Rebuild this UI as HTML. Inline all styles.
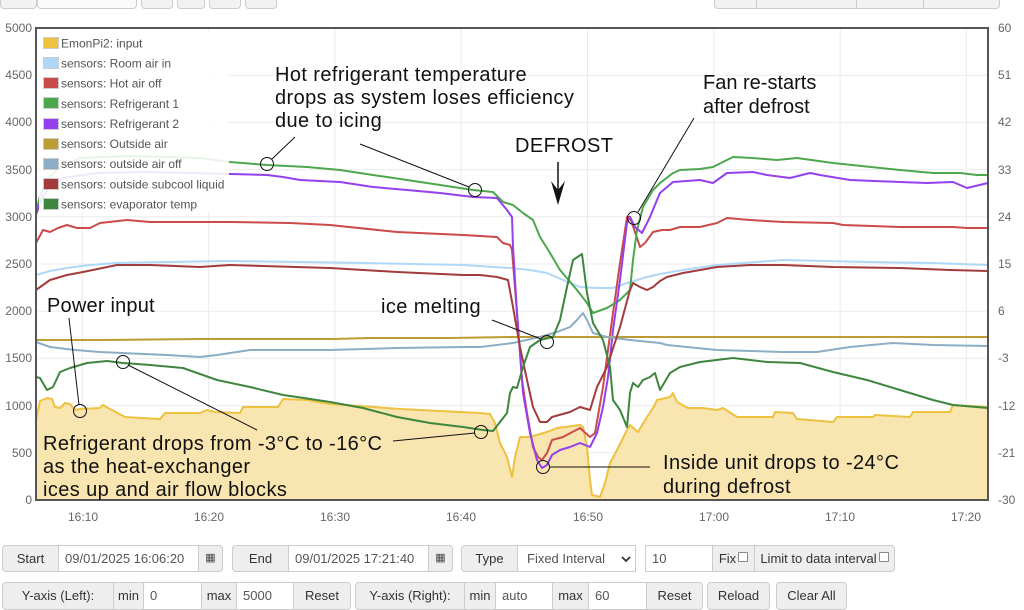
<!DOCTYPE html>
<html><head><meta charset="utf-8">
<style>
html,body{margin:0;padding:0;background:#fff;}
body{width:1024px;height:609px;position:relative;overflow:hidden;font-family:"Liberation Sans",Arial,sans-serif;}
.c{position:absolute;box-sizing:border-box;border:1px solid #ccc;font-size:13px;color:#333;line-height:25px;white-space:nowrap;}
.a{background:#eee;text-align:center;}
.i{background:#fff;color:#555;padding-left:6px;}
.t{position:absolute;box-sizing:border-box;border:1px solid #ccc;background:#f2f2f2;top:-20px;height:29px;border-radius:4px;}
.cb{display:inline-block;width:8px;height:8px;border:1px solid #888;background:#fff;vertical-align:1px;margin-left:2px;border-radius:1px;}
</style></head><body>
<div class="t" style="left:0;width:37px"></div>
<div class="t" style="left:37px;width:100px;background:#fafafa"></div>
<div class="t" style="left:141px;width:32px"></div>
<div class="t" style="left:177px;width:28px"></div>
<div class="t" style="left:209px;width:32px"></div>
<div class="t" style="left:245px;width:32px"></div>
<div class="t" style="left:714px;width:286px"></div>
<div style="position:absolute;left:756px;top:0;width:1px;height:9px;background:#ccc"></div>
<div style="position:absolute;left:856px;top:0;width:1px;height:9px;background:#ccc"></div>
<div style="position:absolute;left:923px;top:0;width:1px;height:9px;background:#ccc"></div>

<svg width="1024" height="540" style="position:absolute;left:0;top:0" font-family="Liberation Sans, Arial, sans-serif">
<g stroke="#ebebeb" stroke-width="1">
<line x1="36" y1="75.2" x2="988" y2="75.2"/><line x1="36" y1="122.4" x2="988" y2="122.4"/>
<line x1="36" y1="169.6" x2="988" y2="169.6"/><line x1="36" y1="216.8" x2="988" y2="216.8"/>
<line x1="36" y1="264" x2="988" y2="264"/><line x1="36" y1="311.2" x2="988" y2="311.2"/>
<line x1="36" y1="358.4" x2="988" y2="358.4"/><line x1="36" y1="405.6" x2="988" y2="405.6"/>
<line x1="36" y1="452.8" x2="988" y2="452.8"/>
<line x1="82.3" y1="28" x2="82.3" y2="500"/><line x1="208.6" y1="28" x2="208.6" y2="500"/>
<line x1="334.9" y1="28" x2="334.9" y2="500"/><line x1="461.2" y1="28" x2="461.2" y2="500"/>
<line x1="587.5" y1="28" x2="587.5" y2="500"/><line x1="713.8" y1="28" x2="713.8" y2="500"/>
<line x1="840.1" y1="28" x2="840.1" y2="500"/><line x1="966.4" y1="28" x2="966.4" y2="500"/>
</g>
<g font-size="12" fill="#666" text-anchor="end">
<text x="32" y="32">5000</text><text x="32" y="79">4500</text><text x="32" y="126">4000</text>
<text x="32" y="174">3500</text><text x="32" y="221">3000</text><text x="32" y="268">2500</text>
<text x="32" y="315">2000</text><text x="32" y="362">1500</text><text x="32" y="410">1000</text>
<text x="32" y="457">500</text><text x="32" y="504">0</text>
</g>
<g font-size="12" fill="#666">
<text x="998" y="32">60</text><text x="998" y="79">51</text><text x="998" y="126">42</text>
<text x="998" y="174">33</text><text x="998" y="221">24</text><text x="998" y="268">15</text>
<text x="998" y="315">6</text><text x="998" y="362">-3</text><text x="998" y="410">-12</text>
<text x="998" y="457">-21</text><text x="998" y="504">-30</text>
</g>
<g font-size="12" fill="#666" text-anchor="middle">
<text x="83" y="521">16:10</text><text x="209" y="521">16:20</text><text x="335" y="521">16:30</text>
<text x="461" y="521">16:40</text><text x="588" y="521">16:50</text><text x="714" y="521">17:00</text>
<text x="840" y="521">17:10</text><text x="966" y="521">17:20</text>
</g>

<polygon fill="#f8e5b0" stroke="none" points="36,500 36,420 40,401 47,398 52,399 55,407 60,408 65,403 70,404 75,410 80,409 100,408 103,405 108,408 112,410 125,417 160,419 165,413 200,413 207,410 215,412 240,413 243,407 278,407 283,399 307,400 330,404 360,406 400,409 440,411 480,413 490,414 495,423 500,443 507,457 512,477 515,457 520,437 530,437 547,432 557,428 580,425 583,427 587,447 590,480 592,495 600,497 605,483 610,463 617,450 627,430 630,425 638,432 647,417 653,408 657,400 670,397 673,393 677,402 688,408 703,408 717,410 723,408 737,417 773,417 775,412 793,413 797,419 833,422 837,417 873,417 875,415 910,417 913,412 950,412 953,405 988,407 988,500"/>
<g fill="none" stroke-width="2" stroke-linejoin="round">
<polyline stroke="#edc240" points="36,420 40,401 47,398 52,399 55,407 60,408 65,403 70,404 75,410 80,409 100,408 103,405 108,408 112,410 125,417 160,419 165,413 200,413 207,410 215,412 240,413 243,407 278,407 283,399 307,400 330,404 360,406 400,409 440,411 480,413 490,414 495,423 500,443 507,457 512,477 515,457 520,437 530,437 547,432 557,428 580,425 583,427 587,447 590,480 592,495 600,497 605,483 610,463 617,450 627,430 630,425 638,432 647,417 653,408 657,400 670,397 673,393 677,402 688,408 703,408 717,410 723,408 737,417 773,417 775,412 793,413 797,419 833,422 837,417 873,417 875,415 910,417 913,412 950,412 953,405 988,407"/>
<polyline stroke="#afd8f8" points="36,275 50,271 67,268 90,265 117,263 167,262 230,261 300,262 363,263 463,265 510,268 530,270 547,273 563,280 580,287 597,288 613,288 627,283 647,277 660,274 683,270 717,265 783,260 867,262 933,263 988,265"/>
<polyline stroke="#cb4b4b" points="36,243 43,230 50,232 58,228 67,225 77,228 90,228 100,223 127,220 150,222 200,222 230,222 290,223 330,225 397,232 463,235 497,237 503,243 510,245 512,250 517,313 522,380 527,413 533,447 538,457 542,460 547,453 552,440 563,437 580,428 590,437 595,433 603,387 613,313 620,263 627,217 630,217 635,232 640,247 645,243 653,232 662,230 670,230 680,227 700,227 717,223 727,218 750,220 783,222 833,223 843,225 900,227 953,227 967,228 988,228"/>
<polyline stroke="#4da74d" points="36,212 40,196 50,176 63,165 80,158 130,156 200,158 230,162 267,165 307,167 340,170 373,175 407,180 440,185 473,190 493,192 503,202 513,205 523,213 533,220 540,237 550,253 560,270 577,290 587,303 593,313 607,308 620,300 630,290 633,260 637,230 643,207 653,190 660,183 673,173 680,170 700,169 713,167 733,157 753,158 777,160 797,158 833,163 900,170 933,173 960,173 977,175 988,175"/>
<polyline stroke="#9440ed" points="36,215 42,198 47,190 63,178 97,173 147,172 230,174 267,175 283,177 300,180 340,182 373,187 407,190 440,193 473,197 497,198 507,210 512,217 513,247 517,313 523,393 530,433 537,460 542,468 547,465 552,455 560,450 570,447 580,443 590,447 597,433 603,407 608,377 613,330 620,280 627,223 630,217 635,227 642,233 650,217 657,200 660,193 673,182 700,180 713,183 727,173 753,172 767,175 790,178 810,173 820,175 850,180 900,182 927,183 953,182 967,188 988,183"/>
<polyline stroke="#be9b33" points="36,340 100,340 200,339 333,339 370,338 450,338 510,337 580,337 660,337 800,337 988,337"/>
<polyline stroke="#8cadc6" points="36,342 50,347 75,350 100,352 167,355 200,357 217,355 250,350 263,350 330,350 397,348 463,347 480,347 513,343 540,337 557,332 570,327 577,320 583,313 587,320 593,333 607,337 630,340 660,343 667,345 717,350 783,352 817,352 850,347 893,343 933,345 988,346"/>
<polyline stroke="#a23c3c" points="36,290 50,280 67,275 83,272 117,265 150,265 200,267 230,265 330,268 397,272 463,275 480,275 497,277 508,280 513,307 520,347 527,380 533,407 540,422 547,422 552,417 570,412 580,407 590,410 597,387 607,367 620,327 630,290 633,283 640,287 647,290 653,287 660,281 667,277 683,273 717,267 750,265 783,265 833,267 900,268 950,270 988,271"/>
<polyline stroke="#3e863e" points="36,377 40,378 47,390 53,387 60,372 70,368 87,363 107,361 123,363 150,365 183,368 217,380 250,387 283,395 297,397 330,402 363,408 397,417 430,423 463,427 483,430 493,431 500,422 507,413 510,393 513,387 517,388 523,367 530,347 540,340 553,337 560,320 567,287 573,260 582,254 587,293 593,323 603,340 610,367 613,400 620,410 627,427 630,393 633,383 638,387 643,380 650,377 655,373 660,390 670,373 680,367 700,362 733,358 767,362 800,363 833,372 867,380 900,390 933,400 953,405 988,408"/>
</g>
<rect x="36" y="28" width="952" height="472" fill="none" stroke="#555" stroke-width="2"/>

<rect x="39" y="31" width="190" height="182" fill="#fff" fill-opacity="0.88"/>
<g stroke="#ccc" stroke-width="1">
<rect x="43.5" y="37.5" width="15" height="11" fill="#edc240"/>
<rect x="43.5" y="57.5" width="15" height="11" fill="#afd8f8"/>
<rect x="43.5" y="77.5" width="15" height="11" fill="#cb4b4b"/>
<rect x="43.5" y="97.5" width="15" height="11" fill="#4da74d"/>
<rect x="43.5" y="118.5" width="15" height="11" fill="#9440ed"/>
<rect x="43.5" y="138.5" width="15" height="11" fill="#be9b33"/>
<rect x="43.5" y="158.5" width="15" height="11" fill="#8cadc6"/>
<rect x="43.5" y="178.5" width="15" height="11" fill="#a23c3c"/>
<rect x="43.5" y="198.5" width="15" height="11" fill="#3e863e"/>
</g>
<g font-size="12" fill="#545454">
<text x="61" y="47.5">EmonPi2: input</text>
<text x="61" y="67.5">sensors: Room air in</text>
<text x="61" y="87.5">sensors: Hot air off</text>
<text x="61" y="108">sensors: Refrigerant 1</text>
<text x="61" y="128">sensors: Refrigerant 2</text>
<text x="61" y="148">sensors: Outside air</text>
<text x="61" y="168">sensors: outside air off</text>
<text x="61" y="188.5">sensors: outside subcool liquid</text>
<text x="61" y="208.5">sensors: evaporator temp</text>
</g>

<g font-size="20" fill="#111" letter-spacing="0.4">
<text x="275" y="81">Hot refrigerant temperature</text>
<text x="275" y="104">drops as system loses efficiency</text>
<text x="275" y="127">due to icing</text>
<text x="515" y="152">DEFROST</text>
<text x="703" y="89" letter-spacing="0">Fan re-starts</text>
<text x="703" y="113" letter-spacing="0">after defrost</text>
<text x="47" y="312" letter-spacing="0.2">Power input</text>
<text x="381" y="313">ice melting</text>
<text x="43" y="450">Refrigerant drops from -3°C to -16°C</text>
<text x="43" y="473">as the heat-exchanger</text>
<text x="43" y="496">ices up and air flow blocks</text>
<text x="663" y="469">Inside unit drops to -24°C</text>
<text x="663" y="493">during defrost</text>
</g>
<g fill="none" stroke="#111" stroke-width="1">
<circle cx="267" cy="164" r="6.5"/><line x1="272" y1="159" x2="295" y2="137"/>
<circle cx="475" cy="190" r="6.5"/><line x1="469" y1="187" x2="360" y2="144"/>
<circle cx="634" cy="218" r="6.5"/><line x1="638" y1="212" x2="694" y2="118"/>
<circle cx="547" cy="342" r="6.5"/><line x1="541" y1="339" x2="492" y2="320"/>
<circle cx="80" cy="411" r="6.5"/><line x1="79" y1="405" x2="69" y2="318"/>
<circle cx="123" cy="362" r="6.5"/><line x1="128" y1="365" x2="257" y2="430"/>
<circle cx="481" cy="432" r="6.5"/><line x1="475" y1="433" x2="393" y2="441"/>
<circle cx="543" cy="467" r="6.5"/><line x1="550" y1="467" x2="650" y2="467"/>
<line x1="558" y1="162" x2="558" y2="192" stroke-width="1.5"/>
</g>
<polygon points="551,181 558,205 565,181 558,190" fill="#111"/>
</svg>

<div class="c a" style="left:2px;top:545px;width:57px;height:27px;border-radius:4px 0 0 4px">Start</div>
<div class="c i" style="left:58px;top:545px;width:141px;height:27px">09/01/2025 16:06:20</div>
<div class="c a" style="left:198px;top:545px;width:25px;height:27px;border-radius:0 4px 4px 0;font-size:11px;color:#444">▦</div>
<div class="c a" style="left:232px;top:545px;width:57px;height:27px;border-radius:4px 0 0 4px">End</div>
<div class="c i" style="left:288px;top:545px;width:141px;height:27px">09/01/2025 17:21:40</div>
<div class="c a" style="left:428px;top:545px;width:25px;height:27px;border-radius:0 4px 4px 0;font-size:11px;color:#444">▦</div>
<div class="c a" style="left:461px;top:545px;width:57px;height:27px;border-radius:4px 0 0 4px">Type</div>
<div class="c i" style="left:517px;top:545px;width:119px;height:27px;padding-left:9px">Fixed Interval<svg width="10" height="7" style="position:absolute;left:103px;top:10px"><polyline points="1,1 5,5 9,1" fill="none" stroke="#333" stroke-width="1.8"/></svg></div>
<div class="c i" style="left:645px;top:545px;width:68px;height:27px">10</div>
<div class="c a" style="left:712px;top:545px;width:43px;height:27px">Fix<span class="cb"></span></div>
<div class="c a" style="left:754px;top:545px;width:141px;height:27px;border-radius:0 4px 4px 0">Limit to data interval<span class="cb"></span></div>
<div class="c a" style="left:2px;top:582px;width:112px;height:28px;border-radius:4px 0 0 4px">Y-axis (Left):</div>
<div class="c a" style="left:113px;top:582px;width:31px;height:28px">min</div>
<div class="c i" style="left:143px;top:582px;width:59px;height:28px">0</div>
<div class="c a" style="left:201px;top:582px;width:36px;height:28px">max</div>
<div class="c i" style="left:236px;top:582px;width:58px;height:28px">5000</div>
<div class="c a" style="left:293px;top:582px;width:58px;height:28px;border-radius:0 4px 4px 0">Reset</div>
<div class="c a" style="left:355px;top:582px;width:110px;height:28px;border-radius:4px 0 0 4px">Y-axis (Right):</div>
<div class="c a" style="left:464px;top:582px;width:32px;height:28px">min</div>
<div class="c i" style="left:495px;top:582px;width:58px;height:28px">auto</div>
<div class="c a" style="left:552px;top:582px;width:37px;height:28px">max</div>
<div class="c i" style="left:588px;top:582px;width:59px;height:28px">60</div>
<div class="c a" style="left:646px;top:582px;width:57px;height:28px;border-radius:0 4px 4px 0">Reset</div>
<div class="c a" style="left:707px;top:582px;width:63px;height:28px;border-radius:4px">Reload</div>
<div class="c a" style="left:776px;top:582px;width:71px;height:28px;border-radius:4px">Clear All</div>
</body></html>
